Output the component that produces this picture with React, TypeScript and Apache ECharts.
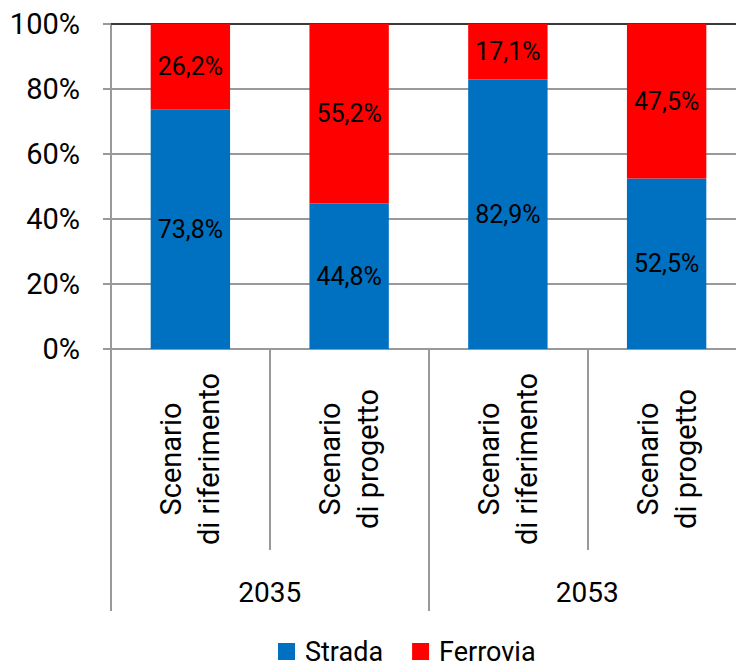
import React, { useEffect, useRef } from "react";
import * as echarts from "echarts";

const categories = ["Scenario\ndi riferimento", "Scenario\ndi progetto", "Scenario\ndi riferimento", "Scenario\ndi progetto"];
const groups = ["2035", "2053"];
const strada = [73.8, 44.8, 82.9, 52.5];
const ferrovia = [26.2, 55.2, 17.1, 47.5];
const seriesNames = ["Strada", "Ferrovia"];

const FONT = "Roboto";
const GRAY = "#999999";

const fmt = (v: number) => v.toFixed(1).replace(".", ",") + "%";

export default function App() {
  const ref = useRef<HTMLDivElement>(null);
  useEffect(() => {
    if (!ref.current) return;
    const chart = echarts.init(ref.current, undefined, { renderer: "svg" });
    const gridBox = { left: 111, top: 24, right: 0, bottom: 317 };
    chart.setOption({
      animation: false,
      textStyle: { fontFamily: FONT, color: "#000" },
      grid: [
        { ...gridBox, containLabel: false },
        { ...gridBox, containLabel: false },
      ],
      legend: {
        data: seriesNames,
        left: 278,
        top: 638,
        padding: 0,
        icon: "rect",
        itemWidth: 17,
        itemHeight: 17,
        itemGap: 29,
        textStyle: { fontFamily: FONT, fontSize: 27, lineHeight: 27, color: "#000", padding: [0, 0, 0, 5] },
      },
      xAxis: [
        {
          type: "category",
          gridIndex: 0,
          position: "bottom",
          data: categories,
          axisLine: { show: true, lineStyle: { color: GRAY, width: 2 } },
          axisTick: { show: true, length: 201, lineStyle: { color: GRAY, width: 2 } },
          axisLabel: {
            rotate: 90,
            align: "center",
            verticalAlign: "middle",
            margin: 110,
            fontFamily: FONT,
            fontSize: 29,
            lineHeight: 38,
            color: "#000",
            interval: 0,
          },
        },
        {
          type: "category",
          gridIndex: 1,
          position: "bottom",
          data: groups,
          axisLine: { show: false },
          axisTick: { show: true, length: 262, lineStyle: { color: GRAY, width: 2 } },
          axisLabel: {
            margin: 243,
            verticalAlign: "middle",
            fontFamily: FONT,
            fontSize: 28,
            color: "#000",
          },
        },
        {
          type: "category",
          gridIndex: 0,
          position: "top",
          data: categories,
          axisLine: { show: true, lineStyle: { color: "#3a3a3a", width: 2 } },
          axisTick: { show: false },
          axisLabel: { show: false },
        },
      ],
      yAxis: [
        {
          type: "value",
          gridIndex: 0,
          min: 0,
          max: 100,
          interval: 20,
          axisLine: { show: true, lineStyle: { color: GRAY, width: 2 } },
          axisTick: { show: true, length: 8, lineStyle: { color: GRAY, width: 2 } },
          splitLine: { show: true, lineStyle: { color: GRAY, width: 2 } },
          axisLabel: {
            formatter: "{value}%",
            margin: 31,
            fontFamily: FONT,
            fontSize: 29,
            color: "#000",
          },
        },
        {
          type: "value",
          gridIndex: 1,
          min: 0,
          max: 100,
          show: false,
        },
      ],
      series: [
        {
          name: seriesNames[0],
          type: "bar",
          stack: "total",
          xAxisIndex: 0,
          yAxisIndex: 0,
          barWidth: "50%",
          data: strada,
          itemStyle: { color: "#0070C0" },
          label: {
            show: true,
            position: "inside",
            fontFamily: FONT,
            fontSize: 25,
            color: "#000",
            formatter: (p: any) => fmt(p.value),
          },
        },
        {
          name: seriesNames[1],
          type: "bar",
          stack: "total",
          xAxisIndex: 0,
          yAxisIndex: 0,
          barWidth: "50%",
          data: ferrovia,
          itemStyle: { color: "#FF0000" },
          label: {
            show: true,
            position: "inside",
            fontFamily: FONT,
            fontSize: 25,
            color: "#000",
            formatter: (p: any) => fmt(p.value),
          },
        },
      ],
    });
    return () => chart.dispose();
  }, []);
  return (
    <div style={{ width: 736, height: 666, position: "absolute", left: 0, top: 0, overflow: "hidden" }}>
      <div ref={ref} style={{ width: 746, height: 666 }} />
    </div>
  );
}
